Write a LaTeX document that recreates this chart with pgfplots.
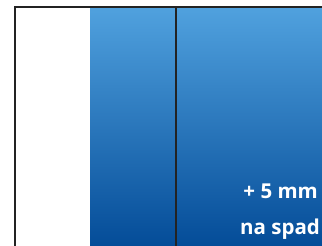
\documentclass[border=0pt]{standalone}
\usepackage{pgfplots}
\pgfplotsset{compat=1.18}
\usepackage{fontspec}
\setmainfont{Open Sans}
\definecolor{blueTop}{RGB}{80,161,222}
\definecolor{blueBot}{RGB}{4,76,152}
\definecolor{lineCol}{RGB}{35,35,35}
\begin{document}
\begin{tikzpicture}
\begin{axis}[
  x=1pt, y=1pt,
  xmin=0, xmax=322, ymin=0, ymax=246,
  hide axis,
  clip=true,
]
% invisible extent of the picture
\addplot[draw=none, fill=white, forget plot] coordinates {(0,0) (322,0) (322,246) (0,246)} -- cycle;
% blue bleed area
\addplot[draw=none, shading=axis, top color=blueTop, bottom color=blueBot, shading angle=0]
  coordinates {(90,0) (322,0) (322,238) (90,238)} -- cycle;
% frame lines
\addplot[lineCol, line width=2pt, mark=none] coordinates {(15,0) (15,238.5) (322,238.5)};
\addplot[lineCol, line width=2pt, mark=none] coordinates {(176,0) (176,238.5)};
\node[anchor=base east, text=white, font=\bfseries\fontsize{20.5}{24}\selectfont, inner sep=0pt] at (axis cs:318,47) {+ 5 mm};
\node[anchor=base west, text=white, font=\bfseries\fontsize{20.5}{24}\selectfont, inner sep=0pt] at (axis cs:240,11) {na spad};
\end{axis}
\end{tikzpicture}
\end{document}
